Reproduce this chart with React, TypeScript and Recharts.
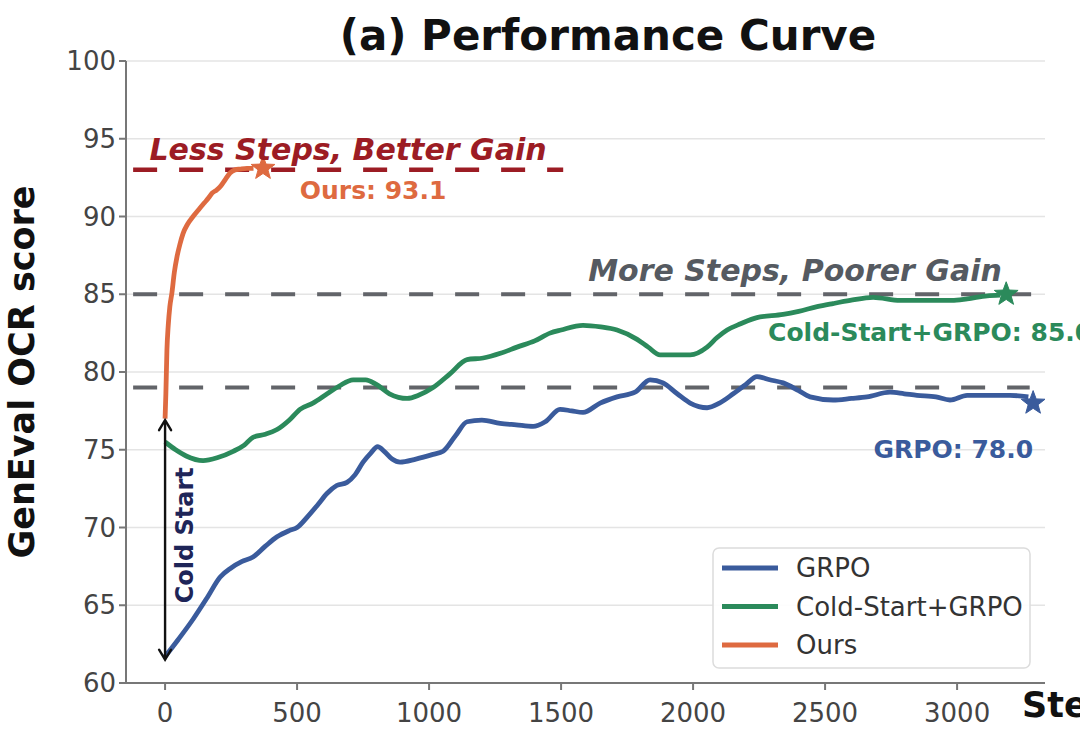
import React from 'react';
import {
  ComposedChart,
  Line,
  Scatter,
  XAxis,
  YAxis,
  CartesianGrid,
  ReferenceLine,
  ReferenceDot,
} from 'recharts';

// ---------------- data ----------------
const xTicks = [0, 500, 1000, 1500, 2000, 2500, 3000];
const yTicks = [60, 65, 70, 75, 80, 85, 90, 95, 100];

const grpoSteps = [
  0, 50, 106, 160, 208, 250, 290, 333, 380, 424, 470, 500, 540, 580, 614, 650, 689, 720, 750, 780,
  805, 830, 860, 890, 950, 1015, 1053, 1100, 1144, 1200, 1269, 1330, 1394, 1440, 1496, 1540, 1583,
  1648, 1712, 1780, 1837, 1886, 1940, 1989, 2053, 2100, 2152, 2200, 2242, 2290, 2341, 2400, 2443,
  2530, 2600, 2659, 2746, 2800, 2848, 2920, 2973, 3038, 3120, 3200, 3270,
];
const grpoScores = [
  61.7, 62.8, 64.1, 65.5, 66.8, 67.4, 67.8, 68.1, 68.8, 69.4, 69.8, 70.0, 70.7, 71.5, 72.2, 72.7,
  72.9, 73.4, 74.2, 74.8, 75.2, 74.9, 74.4, 74.2, 74.4, 74.7, 74.9, 75.9, 76.8, 76.9, 76.7, 76.6,
  76.5, 76.8, 77.6, 77.5, 77.4, 78.0, 78.4, 78.7, 79.5, 79.3, 78.6, 78.0, 77.7, 78.0, 78.6, 79.2,
  79.7, 79.5, 79.3, 78.8, 78.4, 78.2, 78.3, 78.4, 78.7, 78.6, 78.5, 78.4, 78.2, 78.5, 78.5, 78.5,
  78.4,
];

const coldSteps = [
  0, 40, 80, 144, 200, 258, 300, 333, 380, 424, 470, 511, 560, 614, 660, 712, 760, 800, 850, 917,
  960, 1015, 1080, 1144, 1205, 1270, 1333, 1400, 1458, 1500, 1583, 1650, 1712, 1788, 1830, 1875,
  1930, 1989, 2053, 2090, 2129, 2180, 2242, 2341, 2400, 2470, 2530, 2595, 2682, 2784, 2850, 2909,
  2980, 3038, 3114, 3163,
];
const coldScores = [
  75.5, 75.0, 74.6, 74.3, 74.5, 74.9, 75.3, 75.8, 76.0, 76.3, 76.9, 77.6, 78.0, 78.6, 79.1, 79.5,
  79.5, 79.2, 78.6, 78.3, 78.5, 79.0, 79.9, 80.8, 80.9, 81.2, 81.6, 82.0, 82.5, 82.7, 83.0, 82.9,
  82.7, 82.1, 81.6, 81.1, 81.1, 81.1, 81.6, 82.2, 82.7, 83.1, 83.5, 83.7, 83.9, 84.2, 84.4, 84.6,
  84.8, 84.6, 84.6, 84.6, 84.6, 84.7, 84.9, 84.95,
];

const oursSteps = [
  0, 3, 7, 12, 18, 26, 35, 45, 56, 68, 85, 106, 130, 150, 165, 178, 195, 208, 225, 246, 265, 284,
  310, 335,
];
const oursScores = [
  77.0, 78.6, 81.4, 83.0, 84.2, 85.1, 86.4, 87.4, 88.2, 88.9, 89.5, 90.0, 90.5, 90.9, 91.2, 91.5,
  91.7, 91.9, 92.3, 92.8, 93.0, 93.05, 93.1, 93.1,
];

const finalSteps = [3288, 3186, 371];
const finalScores = [78.0, 85.0, 93.1];

const seriesNames = ['GRPO', 'Cold-Start+GRPO', 'Ours'];
const BLUE = '#3a5b9c';
const GREEN = '#2b8a5b';
const ORANGE = '#de6a40';
const RED = '#9c1c24';
const GRAY = '#626469';
const seriesColors = [BLUE, GREEN, ORANGE];

const toData = (xs: number[], ys: number[]) => xs.map((x, i) => ({ x, y: ys[i] }));
const grpoData = toData(grpoSteps, grpoScores);
const coldData = toData(coldSteps, coldScores);
const oursData = toData(oursSteps, oursScores);
const starData = finalSteps.map((x, i) => [{ x, y: finalScores[i] }]);

const FONT = '"DejaVu Sans", sans-serif';

// ---------------- shapes ----------------
const makeStar = (color: string) => (p: any) => {
  const { cx, cy } = p;
  if (cx == null || cy == null) return <g />;
  const R = 12.5;
  const r = 5.2;
  const pts: string[] = [];
  for (let i = 0; i < 10; i++) {
    const a = (-90 + i * 36) * (Math.PI / 180);
    const rad = i % 2 === 0 ? R : r;
    pts.push(`${cx + rad * Math.cos(a)},${cy + rad * Math.sin(a)}`);
  }
  return <polygon points={pts.join(' ')} fill={color} stroke={color} strokeWidth={1} />;
};

const ArrowShape = (p: any) => {
  const { x1, y1, x2, y2 } = p;
  if ([x1, y1, x2, y2].some((v) => v == null || isNaN(v))) return <g />;
  const top = Math.min(y1, y2);
  const bot = Math.max(y1, y2);
  const x = x1;
  const h = 10;
  const w = 6;
  return (
    <g stroke="#111" strokeWidth={2.4} fill="none" strokeLinecap="round">
      <line x1={x} y1={top + 1} x2={x} y2={bot - 1} />
      <polyline points={`${x - w},${top + h} ${x},${top} ${x + w},${top + h}`} />
      <polyline points={`${x - w},${bot - h} ${x},${bot} ${x + w},${bot - h}`} />
    </g>
  );
};

const textShape =
  (txt: string, opts: { fill: string; size: number; italic?: boolean; anchor?: string; baseline?: string; rotate?: number }) =>
  (p: any) => {
    const { cx, cy } = p;
    if (cx == null || cy == null) return <g />;
    return (
      <text
        x={cx}
        y={cy}
        fill={opts.fill}
        fontSize={opts.size}
        fontWeight="bold"
        fontStyle={opts.italic ? 'italic' : 'normal'}
        fontFamily={FONT}
        textAnchor={opts.anchor || 'middle'}
        dominantBaseline={opts.baseline || 'auto'}
        transform={opts.rotate ? `rotate(${opts.rotate} ${cx} ${cy})` : undefined}
      >
        {txt}
      </text>
    );
  };

const axisStyle = { stroke: '#777', strokeWidth: 2 };
const tickStyle = { fill: '#444', fontSize: 26, fontFamily: FONT };

export default function App() {
  return (
    <div
      style={{
        position: 'absolute',
        left: 0,
        top: 0,
        width: 1080,
        height: 744,
        overflow: 'hidden',
        background: '#fff',
        fontFamily: FONT,
      }}
    >
      <ComposedChart width={1080} height={744} margin={{ top: 61, right: 35, left: 0, bottom: 0 }}>
        <CartesianGrid vertical={false} stroke="#e4e4e4" strokeWidth={1.5} />
        <XAxis
          dataKey="x"
          type="number"
          domain={[-148, 3333]}
          allowDataOverflow
          ticks={xTicks}
          height={61}
          tickSize={7}
          tickMargin={14}
          axisLine={axisStyle}
          tickLine={axisStyle}
          tick={tickStyle}
        />
        <YAxis
          dataKey="y"
          type="number"
          domain={[60, 100]}
          allowDataOverflow
          ticks={yTicks}
          width={126}
          tickSize={7}
          tickMargin={3}
          axisLine={axisStyle}
          tickLine={axisStyle}
          tick={tickStyle}
        />

        <ReferenceLine
          segment={[{ x: -121, y: 93 }, { x: 1508, y: 93 }]}
          stroke={RED}
          strokeWidth={4.5}
          strokeDasharray="24 22"
        />
        <ReferenceLine
          segment={[{ x: -121, y: 85 }, { x: 3288, y: 85 }]}
          stroke={GRAY}
          strokeWidth={4}
          strokeDasharray="24 22"
        />
        <ReferenceLine
          segment={[{ x: -121, y: 79 }, { x: 3275, y: 79 }]}
          stroke={GRAY}
          strokeWidth={4}
          strokeDasharray="24 22"
        />

        <Line data={grpoData} dataKey="y" name={seriesNames[0]} type="monotone" stroke={BLUE} strokeWidth={4.8} dot={false} isAnimationActive={false} />
        <Line data={coldData} dataKey="y" name={seriesNames[1]} type="monotone" stroke={GREEN} strokeWidth={4.8} dot={false} isAnimationActive={false} />
        <Line data={oursData} dataKey="y" name={seriesNames[2]} type="monotone" stroke={ORANGE} strokeWidth={4.8} dot={false} isAnimationActive={false} />

        {starData.map((d, i) => (
          <Scatter key={i} data={d} dataKey="y" shape={makeStar(seriesColors[i])} isAnimationActive={false} />
        ))}

        <ReferenceLine segment={[{ x: 0, y: 61.5 }, { x: 0, y: 76.9 }]} shape={ArrowShape} />

        <ReferenceDot x={693} y={93.63} r={0} shape={textShape('Less Steps, Better Gain', { fill: RED, size: 30, italic: true })} />
        <ReferenceDot x={788} y={91.64} r={0} shape={textShape('Ours: 93.1', { fill: ORANGE, size: 25, baseline: 'central' })} />
        <ReferenceDot x={2386} y={85.85} r={0} shape={textShape('More Steps, Poorer Gain', { fill: '#555a61', size: 30, italic: true })} />
        <ReferenceDot x={2284} y={82.57} r={0} shape={textShape('Cold-Start+GRPO: 85.0', { fill: GREEN, size: 25, anchor: 'start', baseline: 'central' })} />
        <ReferenceDot x={3288} y={75.0} r={0} shape={textShape('GRPO: 78.0', { fill: BLUE, size: 25, anchor: 'end', baseline: 'central' })} />
        <ReferenceDot x={76} y={69.5} r={0} shape={textShape('Cold Start', { fill: '#1e2558', size: 24, baseline: 'central', rotate: -90 })} />
      </ComposedChart>

      <svg
        width={1080}
        height={744}
        style={{ position: 'absolute', left: 0, top: 0, pointerEvents: 'none', overflow: 'hidden' }}
      >
        <text x={608} y={50} textAnchor="middle" fontSize={42} fontWeight="bold" fontFamily={FONT} fill="#111">
          (a) Performance Curve
        </text>
        <text
          x={34}
          y={372}
          textAnchor="middle"
          fontSize={35}
          fontWeight="bold"
          fontFamily={FONT}
          fill="#111"
          transform="rotate(-90 34 372)"
        >
          GenEval OCR score
        </text>
        <text x={1022} y={717} textAnchor="start" fontSize={35} fontWeight="bold" fontFamily={FONT} fill="#111">
          Steps
        </text>

        <rect x={713} y={548} width={317} height={120} rx={6} ry={6} fill="#fff" fillOpacity={0.9} stroke="#dcdcdc" strokeWidth={1.5} />
        {seriesNames.map((name, i) => {
          const cy = 568 + i * 38.5;
          return (
            <g key={name}>
              <line x1={722} x2={778} y1={cy} y2={cy} stroke={seriesColors[i]} strokeWidth={5} />
              <text x={796} y={cy} dominantBaseline="central" fontSize={26} fontFamily={FONT} fill="#333">
                {name}
              </text>
            </g>
          );
        })}
      </svg>
    </div>
  );
}
